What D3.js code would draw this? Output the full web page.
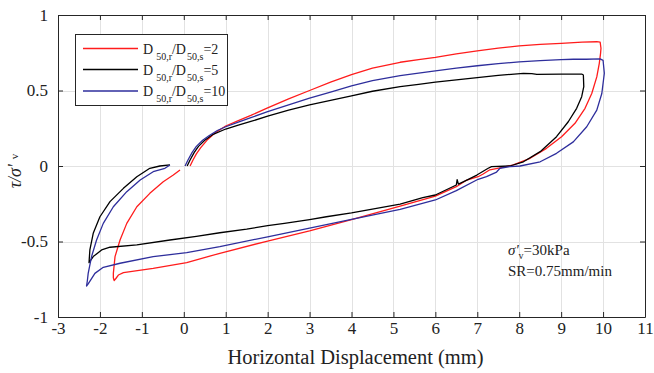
<!DOCTYPE html>
<html>
<head>
<meta charset="utf-8">
<script src="https://cdn.jsdelivr.net/npm/d3@7"></script>
<style>
  body { margin: 0; background: #fff; }
  svg { display: block; }
  text { font-family: "Liberation Serif", "Times New Roman", serif; fill: #222; }
</style>
</head>
<body>
<svg id="chart" width="654" height="373"></svg>
<script>
// Axis ticks
const xTicks = d3.range(-3, 12);
const yTicks = [-1, -0.5, 0, 0.5, 1];

// Legend labels (ratio D50,r / D50,s) and series colours
const ratioLabels = ["2", "5", "10"];
const seriesColors = ["#ff1c1c", "#000000", "#2e2e9c"];

// Stress ratio vs horizontal displacement, [displacement (mm), tau/sigma'v]
// loading to +10 mm, unloading to about -2 mm, reloading back to zero
const ratio2 = [
  [0.15,0.0],[0.22,0.04],[0.3,0.08],[0.4,0.12],[0.55,0.17],[0.75,0.22],[1.0,0.265],
  [1.3,0.30],[1.6,0.335],[2.0,0.385],[2.5,0.445],[3.0,0.50],[3.5,0.555],[4.0,0.605],
  [4.5,0.648],[5.16,0.687],[5.6,0.705],[6.0,0.72],[6.5,0.742],[7.0,0.762],[7.5,0.78],
  [8.0,0.795],[8.5,0.805],[9.0,0.812],[9.5,0.82],[9.85,0.823],[9.93,0.82],
  [9.95,0.78],[9.94,0.746],[9.91,0.68],[9.85,0.59],[9.73,0.48],[9.57,0.382],[9.33,0.283],
  [9.01,0.194],[8.65,0.117],[8.26,0.051],[7.86,0.007],[7.54,-0.012],[7.3,-0.025],
  [7.14,-0.053],[7.02,-0.071],[6.75,-0.093],[6.5,-0.137],[6.0,-0.199],[5.16,-0.265],
  [4.0,-0.355],[3.0,-0.43],[2.0,-0.497],[0.86,-0.578],[0.07,-0.64],[-0.73,-0.678],
  [-1.44,-0.706],[-1.56,-0.722],[-1.62,-0.745],[-1.66,-0.758],
  [-1.68,-0.74],[-1.68,-0.711],[-1.64,-0.6],[-1.52,-0.49],[-1.36,-0.38],[-1.12,-0.27],
  [-0.81,-0.181],[-0.49,-0.104],[-0.25,-0.06],[-0.09,-0.026]
];

const ratio5 = [
  [0.08,0.0],[0.15,0.04],[0.25,0.09],[0.35,0.13],[0.5,0.17],[0.7,0.21],[1.0,0.245],
  [1.3,0.27],[1.6,0.295],[2.0,0.33],[2.5,0.37],[3.0,0.405],[3.5,0.435],[4.0,0.465],
  [4.5,0.495],[5.16,0.525],[5.6,0.54],[6.0,0.555],[6.5,0.57],[7.0,0.585],[7.5,0.6],
  [8.1,0.614],[8.3,0.612],[8.42,0.607],[9.0,0.608],[9.49,0.609],[9.53,0.603],
  [9.54,0.525],[9.49,0.459],[9.37,0.382],[9.17,0.293],[8.89,0.194],[8.5,0.095],
  [8.1,0.028],[7.78,0.0],[7.34,-0.004],[7.26,-0.015],[6.99,-0.06],[6.75,-0.093],
  [6.55,-0.12],[6.52,-0.09],[6.5,-0.126],[6.0,-0.192],[5.7,-0.21],[5.16,-0.252],
  [4.0,-0.31],[3.4,-0.336],[3.0,-0.355],[2.4,-0.38],[2.0,-0.395],[1.5,-0.418],
  [0.86,-0.442],[0.3,-0.466],[-0.33,-0.49],[-1.12,-0.523],
  [-1.76,-0.538],[-1.96,-0.556],[-2.16,-0.6],[-2.26,-0.64],
  [-2.24,-0.556],[-2.16,-0.446],[-2.0,-0.336],[-1.76,-0.236],[-1.44,-0.148],
  [-1.12,-0.071],[-0.81,-0.015],[-0.57,0.0],[-0.33,0.007]
];

const ratio10 = [
  [0.03,0.0],[0.1,0.04],[0.2,0.09],[0.3,0.13],[0.45,0.17],[0.6,0.2],[0.8,0.235],
  [1.0,0.26],[1.3,0.29],[1.6,0.32],[2.0,0.36],[2.5,0.405],[3.0,0.45],[3.5,0.49],
  [4.0,0.53],[4.5,0.565],[5.16,0.598],[5.6,0.615],[6.0,0.63],[6.5,0.648],[7.0,0.664],
  [7.5,0.678],[8.0,0.69],[8.5,0.698],[9.0,0.704],[9.29,0.707],[9.6,0.707],[9.93,0.709],
  [10.0,0.70],
  [10.03,0.614],[9.97,0.48],[9.85,0.37],[9.61,0.26],[9.29,0.16],[8.89,0.084],[8.5,0.028],
  [8.02,0.0],[7.78,-0.004],[7.54,-0.015],[7.46,-0.04],[7.22,-0.07],[7.02,-0.088],
  [6.5,-0.163],[6.0,-0.225],[5.16,-0.287],[4.0,-0.354],[3.0,-0.412],[2.0,-0.469],
  [0.86,-0.534],[0.07,-0.574],[-0.73,-0.6],[-1.52,-0.644],[-1.92,-0.671],[-2.12,-0.711],
  [-2.28,-0.78],[-2.32,-0.795],
  [-2.3,-0.76],[-2.28,-0.711],[-2.2,-0.6],[-2.08,-0.49],[-1.92,-0.38],[-1.68,-0.27],
  [-1.36,-0.17],[-1.04,-0.093],[-0.73,-0.038],[-0.45,-0.015],[-0.33,0.007]
];

const seriesData = [ratio2, ratio5, ratio10];

const svg = d3.select("#chart");
const plot = { left: 58, right: 645, top: 15, bottom: 317 };
const serif = "'Liberation Serif', 'Times New Roman', serif";

const x = d3.scaleLinear().domain([-3, 11]).range([plot.left, plot.right]);
const y = d3.scaleLinear().domain([-1, 1]).range([plot.bottom, plot.top]);

// grid
const grid = svg.append("g").attr("stroke", "#e2e2e2").attr("stroke-width", 1);
grid.selectAll("line.v").data(xTicks.slice(1, -1)).join("line")
  .attr("x1", d => Math.round(x(d)) + 0.5).attr("x2", d => Math.round(x(d)) + 0.5)
  .attr("y1", plot.top).attr("y2", plot.bottom);
grid.selectAll("line.h").data(yTicks.slice(1, -1)).join("line")
  .attr("y1", d => Math.round(y(d)) + 0.5).attr("y2", d => Math.round(y(d)) + 0.5)
  .attr("x1", plot.left).attr("x2", plot.right);

// axes with inward ticks
function styleAxis(g) {
  g.attr("font-family", serif).attr("font-size", 17);
  g.select(".domain").attr("stroke", "#262626");
  g.selectAll(".tick line").attr("stroke", "#262626");
  g.selectAll(".tick text").attr("fill", "#222").style("font-family", serif).style("font-size", "17px");
}
svg.append("g").attr("transform", `translate(0,${plot.bottom})`)
  .call(d3.axisBottom(x).tickValues(xTicks).tickSizeInner(-5).tickSizeOuter(0).tickPadding(5)
    .tickFormat(d => String(d)))
  .call(styleAxis);
svg.append("g").attr("transform", `translate(0,${plot.top})`)
  .call(d3.axisTop(x).tickValues(xTicks).tickSizeInner(-5).tickSizeOuter(0).tickFormat(""))
  .call(styleAxis);
svg.append("g").attr("transform", `translate(${plot.left},0)`)
  .call(d3.axisLeft(y).tickValues(yTicks).tickSizeInner(-5).tickSizeOuter(0).tickPadding(10)
    .tickFormat(d => String(d)))
  .call(styleAxis);
svg.append("g").attr("transform", `translate(${plot.right},0)`)
  .call(d3.axisRight(y).tickValues(yTicks).tickSizeInner(-5).tickSizeOuter(0).tickFormat(""))
  .call(styleAxis);

// curves
const line = d3.line().x(d => x(d[0])).y(d => y(d[1]));
svg.append("g").selectAll("path").data(seriesData).join("path")
  .attr("d", line)
  .attr("fill", "none")
  .attr("stroke", (d, i) => seriesColors[i])
  .attr("stroke-width", 1.3)
  .attr("stroke-linejoin", "round");

// x-axis title
svg.append("text").attr("x", (plot.left + plot.right) / 2 + 4).attr("y", 364)
  .attr("text-anchor", "middle").style("font-size", "20.5px")
  .text("Horizontal Displacement (mm)");

// y-axis title
const yTitle = svg.append("text")
  .attr("transform", "translate(21,171) rotate(-90)")
  .attr("text-anchor", "middle").style("font-size", "18px");
yTitle.append("tspan").style("font-style", "italic").text("τ/σ'");
yTitle.append("tspan").attr("dx", 5).attr("dy", -3).style("font-size", "11px").text("v");

// legend
const legend = svg.append("g");
legend.append("rect").attr("x", 75.5).attr("y", 34.5).attr("width", 152).attr("height", 71)
  .attr("fill", "#fff").attr("stroke", "#262626").attr("stroke-width", 1);
const rowY = [48.5, 69.5, 91];
ratioLabels.forEach((lab, i) => {
  legend.append("line").attr("x1", 83).attr("x2", 138).attr("y1", rowY[i]).attr("y2", rowY[i])
    .attr("stroke", seriesColors[i]).attr("stroke-width", 1.3);
  const t = legend.append("text").attr("x", 143).attr("y", rowY[i] + 5).style("font-size", "14px");
  t.append("tspan").text("D");
  t.append("tspan").attr("dx", 3).attr("dy", 6).style("font-size", "10px").text("50,r");
  t.append("tspan").attr("dy", -6).text("/D");
  t.append("tspan").attr("dx", 1).attr("dy", 6).style("font-size", "10px").text("50,s");
  t.append("tspan").attr("dy", -6).text("=" + lab);
});

// test conditions
const note1 = svg.append("text").attr("x", 508).attr("y", 255).style("font-size", "15px");
note1.append("tspan").style("font-style", "italic").text("σ'");
note1.append("tspan").attr("dy", 4).style("font-size", "10px").text("v");
note1.append("tspan").attr("dy", -4).text("=30kPa");
svg.append("text").attr("x", 508).attr("y", 276).style("font-size", "15px")
  .text("SR=0.75mm/min");
</script>
</body>
</html>
